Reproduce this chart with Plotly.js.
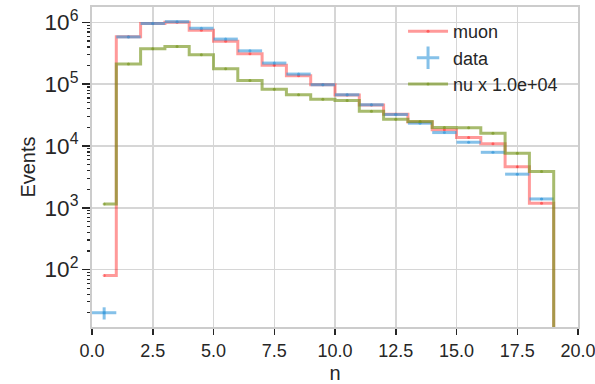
<!DOCTYPE html>
<html>
<head>
<meta charset="utf-8">
<script src="https://cdn.plot.ly/plotly-3.0.1.min.js"></script>
<style>html,body{margin:0;padding:0;background:#fff;}#chart{width:595px;height:384px;}</style>
</head>
<body>
<div id="chart"></div>
<script>
// Bin edges of the histogram (n)
const binEdges = [0,1,2,3,4,5,6,7,8,9,10,11,12,13,14,15,16,17,18,19,20];
// Muon expectation per bin
const muon = [80, 585000, 960000, 1010000, 750000, 495000, 312000, 202000, 137000, 98000,
              67000, 46000, 32700, 24400, 18400, 13700, 10900, 4600, 1180, 0];
// Observed data per bin
const data = [20, 583000, 962000, 1030000, 805000, 538000, 347000, 220000, 146000, 98000,
              67500, 46500, 32300, 23400, 16500, 11500, 7900, 3500, 1390, 0];
// Neutrino expectation per bin (unscaled) and the scale used for display
const nu = [0.115, 21.2, 37.5, 40.8, 30.0, 17.8, 11.5, 8.3, 6.73, 5.73,
            5.45, 3.65, 2.72, 2.49, 2.00, 1.98, 1.61, 0.76, 0.385, 0];
const nuScale = 1.0e4;
const seriesNames = ['muon', 'data', 'nu x 1.0e+04'];
// x tick labels
const xTickVals = [0, 2.5, 5, 7.5, 10, 12.5, 15, 17.5, 20];
const xTickText = ['0.0', '2.5', '5.0', '7.5', '10.0', '12.5', '15.0', '17.5', '20.0'];

const centers = binEdges.slice(0, -1).map((e, i) => (e + binEdges[i + 1]) / 2);
const halfW = binEdges.slice(0, -1).map((e, i) => (binEdges[i + 1] - e) / 2);
// log axis: empty bins are clipped below the axis like matplotlib does
const FLOOR = 1e-3;
const clipLog = v => (v > 0 ? v : FLOOR);

const RED = 'rgba(255,0,0,0.4)';
const BLUE = 'rgba(52,152,219,0.6)';
const GREEN = 'rgba(120,150,30,0.65)';
const font = 'Liberation Sans, Arial, sans-serif';
const ink = '#262626';

const traces = [
  {
    x: centers, y: muon.map(clipLog), name: seriesNames[0],
    mode: 'lines+markers', line: {shape: 'hvh', color: RED, width: 3},
    marker: {size: 3, color: RED}
  },
  {
    x: centers, y: data.map(v => (v > 0 ? v : null)), name: seriesNames[1],
    mode: 'markers', marker: {size: 3, color: BLUE}, showlegend: false,
    error_x: {type: 'data', array: halfW, color: BLUE, thickness: 3, width: 0},
    error_y: {type: 'data', array: data.map(v => Math.sqrt(v)), color: BLUE, thickness: 3, width: 0}
  },
  {
    x: [null], y: [null], name: seriesNames[1], mode: 'markers',
    marker: {symbol: 'cross-thin', size: 19, color: BLUE, line: {color: BLUE, width: 3}}
  },
  {
    x: centers, y: nu.map(v => clipLog(v * nuScale)), name: seriesNames[2],
    mode: 'lines+markers', line: {shape: 'hvh', color: GREEN, width: 3},
    marker: {size: 3, color: GREEN}
  }
];

const layout = {
  width: 595, height: 384,
  margin: {l: 92, r: 17, t: 7, b: 57},
  paper_bgcolor: '#ffffff', plot_bgcolor: '#ffffff',
  font: {family: font, size: 18, color: ink},
  showlegend: true,
  legend: {x: 0.64, y: 0.981, xanchor: 'left', yanchor: 'top', bgcolor: 'rgba(0,0,0,0)',
           font: {size: 18, color: ink}, itemwidth: 40, tracegroupgap: 0},
  xaxis: {
    range: [0, 20], tickmode: 'array', tickvals: xTickVals, ticktext: xTickText,
    ticklabeloverflow: 'allow',
    ticks: 'outside', ticklen: 6, tickwidth: 1.5, tickcolor: ink,
    showgrid: true, gridcolor: '#d6d6d6', gridwidth: 1.5,
    showline: true, mirror: true, linecolor: '#cccccc', linewidth: 2,
    zeroline: false, tickfont: {size: 18, color: ink},
    title: {text: 'n', font: {size: 20, color: ink}, standoff: 6}
  },
  yaxis: {
    type: 'log', range: [1.07, 6.25], dtick: 1, exponentformat: 'power',
    ticks: 'outside', ticklen: 8, tickwidth: 1.5, tickcolor: ink,
    minor: {ticks: 'outside', ticklen: 3, tickwidth: 1.2, tickcolor: ink, showgrid: false, dtick: 'D1'},
    showgrid: true, gridcolor: '#d6d6d6', gridwidth: 1.5,
    showline: true, mirror: true, linecolor: '#cccccc', linewidth: 2,
    zeroline: false, tickfont: {size: 18, color: ink},
    title: {text: 'Events', font: {size: 20, color: ink}, standoff: 4}
  }
};

Plotly.newPlot('chart', traces, layout, {displayModeBar: false, staticPlot: true});
</script>
</body>
</html>
